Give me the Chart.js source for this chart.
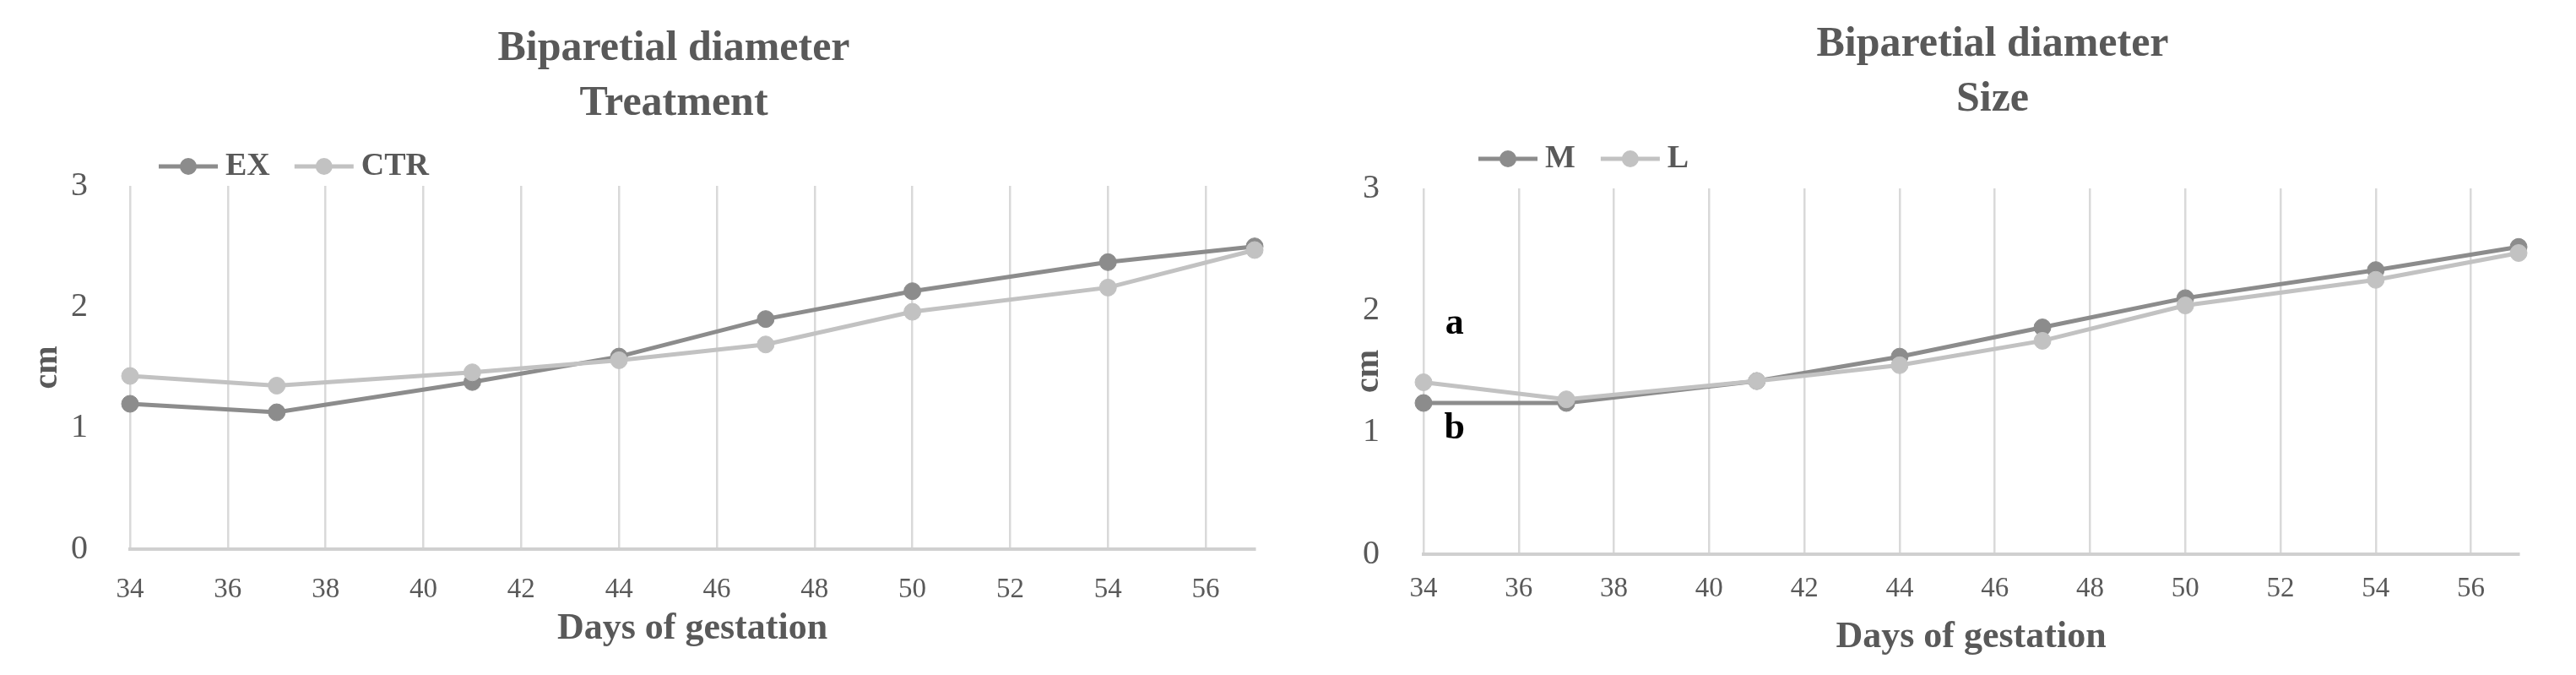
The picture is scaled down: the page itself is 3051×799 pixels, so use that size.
<!DOCTYPE html>
<html>
<head>
<meta charset="utf-8">
<title>Biparetial diameter</title>
<script src="https://cdn.jsdelivr.net/npm/chart.js@4.4.1/dist/chart.umd.min.js"></script>
<style>
  html, body { margin: 0; padding: 0; background: #fff; overflow: hidden; width: 3051px; height: 799px; }
  canvas { position: absolute; top: 0; }
  #treatmentChart { left: 0; }
  #sizeChart { left: 1560px; }
</style>
</head>
<body>
<canvas id="treatmentChart" width="1596" height="799"></canvas>
<canvas id="sizeChart" width="1600" height="799"></canvas>
<script>
// values
let days = [34, 37, 41, 44, 47, 50, 54, 57];
let exValues  = [1.20, 1.13, 1.38, 1.59, 1.90, 2.13, 2.37, 2.50];
let ctrValues = [1.43, 1.35, 1.46, 1.56, 1.69, 1.96, 2.16, 2.47];
let mValues   = [1.24, 1.24, 1.42, 1.62, 1.86, 2.10, 2.33, 2.52];
let lValues   = [1.41, 1.27, 1.42, 1.55, 1.75, 2.04, 2.25, 2.47];

let dayTicks = [34, 36, 38, 40, 42, 44, 46, 48, 50, 52, 54, 56];
let cmTicks = [0, 1, 2, 3];

// significance letters on the Size chart
let letters = ['a', 'b'];
let letterDays = [34.65, 34.65];
let letterValues = [1.89, 1.03];

const FONT = '"Liberation Serif", "Times New Roman", serif';
const TEXT = '#595959';
const DARK = '#8c8c8c';
const LIGHT = '#c2c2c2';

const lineLegend = {
    id: 'lineLegend',
    afterDraw(chart, args, opts) {
        let ctx = chart.ctx;
        let x = opts.x;
        ctx.save();
        ctx.font = 'bold 38px ' + FONT;
        ctx.textBaseline = 'middle';
        ctx.textAlign = 'left';
        chart.data.datasets.forEach((ds) => {
            ctx.strokeStyle = ds.borderColor;
            ctx.lineWidth = 5;
            ctx.beginPath();
            ctx.moveTo(x, opts.y);
            ctx.lineTo(x + 70, opts.y);
            ctx.stroke();
            ctx.fillStyle = ds.borderColor;
            ctx.beginPath();
            ctx.arc(x + 35, opts.y, 10, 0, Math.PI * 2);
            ctx.fill();
            ctx.fillStyle = TEXT;
            ctx.fillText(ds.label, x + 79, opts.y);
            x += 79 + ctx.measureText(ds.label).width + opts.gap;
        });
        ctx.restore();
    }
};

const letterMarks = {
    id: 'letterMarks',
    afterDatasetsDraw(chart) {
        let ctx = chart.ctx;
        let xs = chart.scales.x;
        let ys = chart.scales.y;
        ctx.save();
        ctx.font = 'bold 44px ' + FONT;
        ctx.fillStyle = '#000';
        ctx.textAlign = 'center';
        ctx.textBaseline = 'middle';
        letters.forEach((t, i) => {
            ctx.fillText(t, xs.getPixelForValue(letterDays[i]), ys.getPixelForValue(letterValues[i]));
        });
        ctx.restore();
    }
};

function series(label, values, color, order) {
    return {
        label: label,
        data: days.map((d, i) => ({ x: d, y: values[i] })),
        borderColor: color,
        backgroundColor: color,
        borderWidth: 5,
        pointRadius: 10,
        pointBorderWidth: 1,
        pointBackgroundColor: color,
        pointBorderColor: color,
        tension: 0,
        clip: false,
        order: order
    };
}

function makeChart(id, p) {
    return new Chart(id, {
        type: 'line',
        data: { datasets: p.datasets },
        plugins: p.extraPlugins,
        options: {
            responsive: false,
            animation: false,
            events: [],
            layout: { padding: 0 },
            plugins: {
                legend: { display: false },
                tooltip: { enabled: false },
                title: {
                    display: true,
                    text: p.title,
                    color: TEXT,
                    font: { family: FONT, size: 50, weight: 'bold', lineHeight: 1.3 },
                    padding: { top: p.titleTop, bottom: p.titleBottom }
                },
                lineLegend: p.legend
            },
            scales: {
                x: {
                    type: 'linear',
                    min: 34,
                    max: 57,
                    afterBuildTicks: (s) => { s.ticks = dayTicks.map(v => ({ value: v })); },
                    afterFit: (s) => { s.height = p.xHeight; },
                    grid: { color: '#d9d9d9', lineWidth: 2.5, drawTicks: false },
                    border: { color: '#d0d0d0', width: 4 },
                    ticks: {
                        color: TEXT,
                        font: { family: FONT, size: 33 },
                        padding: p.xTickPad,
                        maxRotation: 0,
                        autoSkip: false
                    },
                    title: {
                        display: true,
                        text: 'Days of gestation',
                        color: TEXT,
                        font: { family: FONT, size: 44, weight: 'bold' },
                        padding: { top: 0, bottom: p.xTitleBottom }
                    }
                },
                y: {
                    min: 0,
                    max: 3,
                    afterBuildTicks: (s) => { s.ticks = cmTicks.map(v => ({ value: v })); },
                    afterFit: (s) => { s.width = p.yWidth; },
                    grid: { display: false },
                    border: { display: false },
                    ticks: {
                        color: TEXT,
                        font: { family: FONT, size: 40 },
                        padding: p.yTickPad
                    },
                    title: {
                        display: true,
                        text: 'cm',
                        color: TEXT,
                        font: { family: FONT, size: 40, weight: 'bold' },
                        padding: { top: p.yTitleTop, bottom: 0 }
                    }
                },
                // empty axis on the right, only used to leave room
                y2: {
                    position: 'right',
                    grid: { display: false },
                    border: { display: false },
                    ticks: { display: false },
                    afterFit: (s) => { s.width = p.rightSpace; }
                }
            }
        }
    });
}

makeChart('treatmentChart', {
    title: ['Biparetial diameter', 'Treatment'],
    datasets: [series('EX', exValues, DARK, 1), series('CTR', ctrValues, LIGHT, 0)],
    extraPlugins: [lineLegend],
    legend: { x: 188, y: 197, gap: 29 },
    titleTop: 25.5,
    titleBottom: 64.5,
    xHeight: 149,
    xTickPad: 28.7,
    xTitleBottom: 27.6,
    yWidth: 154,
    yTickPad: 42,
    yTitleTop: 33,
    rightSpace: 110
});

makeChart('sizeChart', {
    title: ['Biparetial diameter', 'Size'],
    datasets: [series('M', mValues, DARK, 1), series('L', lValues, LIGHT, 0)],
    extraPlugins: [lineLegend, letterMarks],
    legend: { x: 191, y: 188, gap: 30 },
    titleTop: 20.5,
    titleBottom: 72.5,
    xHeight: 143,
    xTickPad: 21.2,
    xTitleBottom: 17.6,
    yWidth: 126,
    yTickPad: 44,
    yTitleTop: 38,
    rightSpace: 177
});
</script>
</body>
</html>
